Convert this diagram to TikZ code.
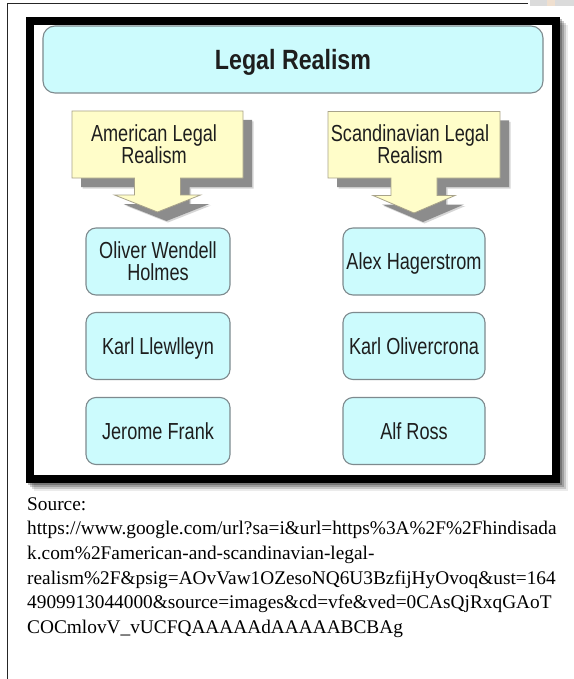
\documentclass[tikz,border=0pt]{standalone}
\usepackage{fontspec}
\setmainfont{Liberation Serif}[Ligatures={TeX,NoCommon}]
\newfontfamily\arialf{Liberation Sans}[Ligatures=NoCommon]
\usepackage{graphicx}
\definecolor{cyanfill}{HTML}{CCFBFD}
\definecolor{boxline}{HTML}{7E8A8E}
\definecolor{yelfill}{HTML}{FFFDC9}
\definecolor{yelline}{HTML}{A8A38A}
\definecolor{shadowgray}{HTML}{8C8C8C}
\definecolor{txt}{HTML}{1E1E1E}
\newcommand\nameone[1]{\raisebox{-8.3bp}[0pt][0pt]{\scalebox{1}[1.28]{#1}}}
\newcommand\nametwo[2]{\raisebox{2.66bp}[0pt][0pt]{\scalebox{1}[1.28]{\vtop{\baselineskip=17.2pt\lineskiplimit=-1000pt\halign{\hfil##\hfil\cr#1\cr#2\cr}}}}}
\newcommand\titletext[1]{\raisebox{-10bp}[0pt][0pt]{\scalebox{1}[1.2]{#1}}}
\tikzset{
  namebox/.style={draw=boxline, line width=1.1bp, fill=cyanfill, rounded corners=10bp,
    minimum height=67bp, inner sep=0pt, text=txt, font=\arialf\fontsize{18.2}{17.2}\selectfont},
  titlebox/.style={draw=boxline, line width=1.1bp, fill=cyanfill, rounded corners=12bp,
    minimum width=500bp, minimum height=67bp, inner sep=0pt, text=txt,
    font=\arialf\bfseries\fontsize{23.3}{28}\selectfont},
  calltext/.style={inner sep=0pt, text=txt, font=\arialf\fontsize{18.2}{17.2}\selectfont},
  callfill/.style={fill=yelfill, draw=yelline, line width=0.8bp},
  srctext/.style={inner sep=0pt, align=left, text=black, font=\fontsize{19.4}{24.8}\selectfont},
  pageline/.style={draw=black!85, line width=1.4bp},
}
\begin{document}
\begin{tikzpicture}[x=1bp,y=-1bp]
\useasboundingbox (0,0) rectangle (574,679);
\fill[white] (0,0) rectangle (574,679);
% page border
\coordinate (pl2) at (7.3,679);
\coordinate (pc) at (7.3,3.7);
\coordinate (pt2) at (528,3.7);
\draw[pageline] (pl2) -- (pc) -- (pt2);
% faint picture fragment top right
\fill[black!14] (530,0) rectangle (574,6.5);
\fill[brown!25] (547,0) rectangle (555,6.5);
% frame shadow
\foreach \o/\op in {2/0.25,4/0.2,6/0.15,8/0.08}{
  \draw[line width=7.5bp, black, opacity=\op] (30.2+\o,21+\o) rectangle (556+\o,479+\o);
}
\fill[white] (33.95,24.75) rectangle (552.25,475.25);
\draw[line width=7.5bp, black] (30.2,21) rectangle (556,479);
% title
\node[titlebox] (title) at (293,59.5) {\titletext{Legal Realism}};
% left callout
\begin{scope}[shift={(157.5,111)}]
  \foreach \o/\op in {10.5/0.35,9/1}{
    \fill[shadowgray, opacity=\op, shift={(\o,\o)}]
      (-85.5,0) -- (85.5,0) -- (85.5,67) -- (23,67) -- (23,84) -- (43,84) -- (0,101)
      -- (-43,84) -- (-23,84) -- (-23,67) -- (-85.5,67) -- cycle;
  }
  \path[callfill] (-85.5,0) -- (85.5,0) -- (85.5,67) -- (23,67) -- (23,84) -- (43,84) -- (0,101)
      -- (-43,84) -- (-23,84) -- (-23,67) -- (-85.5,67) -- cycle;
\end{scope}
\node[calltext] (amer) at (154,144.2) {\nametwo{American Legal}{Realism}};
% right callout
\begin{scope}[shift={(414,111.5)}]
  \foreach \o/\op in {10.5/0.35,9/1}{
    \fill[shadowgray, opacity=\op, shift={(\o,\o)}]
      (-86,0) -- (86,0) -- (86,66.5) -- (23,66.5) -- (23,84) -- (41,84) -- (0,101.5)
      -- (-41,84) -- (-23,84) -- (-23,66.5) -- (-86,66.5) -- cycle;
  }
  \path[callfill] (-86,0) -- (86,0) -- (86,66.5) -- (23,66.5) -- (23,84) -- (41,84) -- (0,101.5)
      -- (-41,84) -- (-23,84) -- (-23,66.5) -- (-86,66.5) -- cycle;
\end{scope}
\node[calltext] (scand) at (410,144.5) {\nametwo{Scandinavian Legal}{Realism}};
% name boxes
\node[namebox, minimum width=144bp] (holmes) at (158,261.5) {\nametwo{Oliver Wendell}{Holmes}};
\node[namebox, minimum width=144bp] (llew) at (158,346) {\nameone{Karl Llewlleyn}};
\node[namebox, minimum width=144bp] (frank) at (158,431) {\nameone{Jerome Frank}};
\node[namebox, minimum width=142bp] (hager) at (414,261.5) {\nameone{Alex Hagerstrom}};
\node[namebox, minimum width=142bp] (oliv) at (414,346) {\nameone{Karl Olivercrona}};
\node[namebox, minimum width=142bp] (ross) at (414,431) {\nameone{Alf Ross}};
% source
\node[srctext, anchor=base west] (src) at (27,633.6) {Source:\\
https://www.google.com/url?sa=i\&url=https\%3A\%2F\%2Fhindisada\\
k.com\%2Famerican-and-scandinavian-legal-\\
realism\%2F\&psig=AOvVaw1OZesoNQ6U3BzfijHyOvoq\&ust=164\\
4909913044000\&source=images\&cd=vfe\&ved=0CAsQjRxqGAoT\\
COCmlovV\_vUCFQAAAAAdAAAAABCBAg};
\end{tikzpicture}
\end{document}
